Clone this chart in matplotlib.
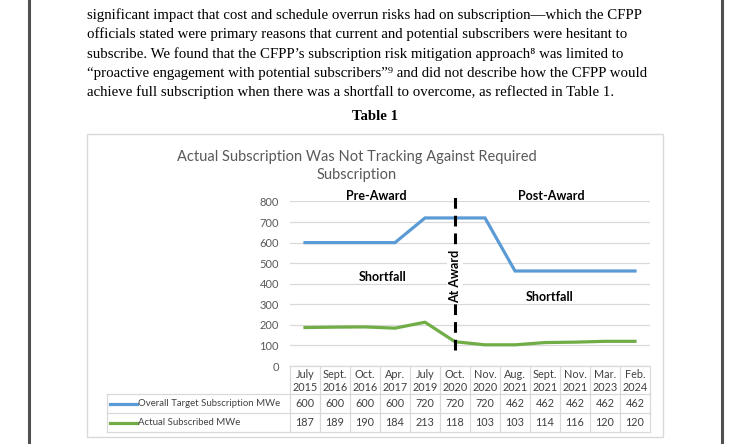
import matplotlib

matplotlib.use("Agg")
import matplotlib.pyplot as plt
from matplotlib.lines import Line2D
from matplotlib.patches import Rectangle

W, H = 750, 444

body_lines = [
    "significant impact that cost and schedule overrun risks had on subscription\u2014which the CFPP",
    "officials stated were primary reasons that current and potential subscribers were hesitant to",
    "subscribe. We found that the CFPP\u2019s subscription risk mitigation approach\u2078 was limited to",
    "\u201cproactive engagement with potential subscribers\u201d\u2079 and did not describe how the CFPP would",
    "achieve full subscription when there was a shortfall to overcome, as reflected in Table 1.",
]
table_caption = "Table 1"
chart_title = "Actual Subscription Was Not Tracking Against Required\nSubscription"

months = ["July", "Sept.", "Oct.", "Apr.", "July", "Oct.", "Nov.", "Aug.", "Sept.", "Nov.", "Mar.", "Feb."]
years = ["2015", "2016", "2016", "2017", "2019", "2020", "2020", "2021", "2021", "2021", "2023", "2024"]
target_mwe = [600, 600, 600, 600, 720, 720, 720, 462, 462, 462, 462, 462]
actual_mwe = [187, 189, 190, 184, 213, 118, 103, 103, 114, 116, 120, 120]
series_names = ["Overall Target Subscription MWe", "Actual Subscribed MWe"]
award_label = "Oct. 2020"

BLUE = "#5b9bd5"
GREEN = "#70ad47"
GRID = "#d9d9d9"
TXT = "#595959"
SERIF = ["Liberation Serif", "DejaVu Serif"]
SANS = ["Lato", "DejaVu Sans"]


def fx(x):
    return x / W


def fy(y):
    return 1 - y / H


fig = plt.figure(figsize=(7.5, 4.44), dpi=100)
fig.patch.set_facecolor("white")

# page frame lines
for xp in (28.5, 722):
    fig.add_artist(Line2D([fx(xp), fx(xp)], [0, 1], color="#505050", lw=2.2))

# body text
for i, line in enumerate(body_lines):
    fig.text(fx(87), fy(15 + i * 19.4), line, family=SERIF, fontsize=10.7,
             va="center", ha="left", color="black")
fig.text(fx(375), fy(117), table_caption, family=SERIF, fontsize=10.7,
         weight="bold", ha="center", va="center")

# chart box
fig.add_artist(Rectangle((fx(87), fy(437)), fx(663) - fx(87), fy(134.5) - fy(437),
                         transform=fig.transFigure, fill=False, ec=GRID, lw=1))
fig.text(fx(357), fy(166), chart_title, family=SANS, fontsize=10.5, color=TXT,
         ha="center", va="center", linespacing=1.45)

# main plot
ax = fig.add_axes([fx(290), fy(366), fx(650) - fx(290), fy(201.5) - fy(366)])
x = list(range(len(months)))
ax.plot(x, target_mwe, color=BLUE, lw=2.3, solid_joinstyle="miter")
ax.plot(x, actual_mwe, color=GREEN, lw=2.3)
ax.set_xlim(-0.5, len(months) - 0.5)
ax.set_ylim(0, 800)
ax.set_yticks(range(0, 801, 100))
ax.set_xticks([])
ax.grid(axis="y", color=GRID, lw=0.9)
ax.set_axisbelow(True)
ax.tick_params(axis="y", length=0, pad=8, labelsize=8, labelcolor=TXT)
for lab in ax.get_yticklabels():
    lab.set_family(SANS)
for s in ax.spines.values():
    s.set_visible(False)

award_idx = [f"{m} {y}" for m, y in zip(months, years)].index(award_label)
ax.axvline(award_idx, ymin=0.0975, ymax=1.06, color="black", lw=2.2,
           dashes=(3.5, 2.3), clip_on=False, zorder=3)
ax.text(award_idx, 438, "At Award", rotation=90, ha="center", va="center",
        family=SANS, fontsize=9, weight="bold", zorder=4,
        bbox=dict(boxstyle="square,pad=0.15", fc="white", ec="none"))
ax.text(2.39, 828, "Pre-Award", ha="center", va="center", family=SANS,
        fontsize=9, weight="bold", clip_on=False)
ax.text(8.2, 828, "Post-Award", ha="center", va="center", family=SANS,
        fontsize=9, weight="bold", clip_on=False)
ax.text(2.58, 435, "Shortfall", ha="center", va="center", family=SANS,
        fontsize=9, weight="bold")
ax.text(8.16, 334, "Shortfall", ha="center", va="center", family=SANS,
        fontsize=9, weight="bold")

# data table under the plot (vertical units are pixels)
tb = fig.add_axes([fx(290), fy(432), fx(650) - fx(290), fy(366) - fy(432)])
tb.set_xlim(-0.5, len(months) - 0.5)
tb.set_ylim(66, 0)
tb.axis("off")
rows = [0, 28, 47, 66]
left = -0.5 - (290 - 107) / 30
n = len(months)
kw = dict(color=GRID, lw=0.9, clip_on=False)
tb.plot([-0.5, n - 0.5], [rows[0], rows[0]], **kw)
for r in rows[1:]:
    tb.plot([left, n - 0.5], [r, r], **kw)
for i in range(n + 1):
    tb.plot([i - 0.5, i - 0.5], [rows[0], rows[3]], **kw)
tb.plot([left, left], [rows[1], rows[3]], **kw)

tkw = dict(family=SANS, fontsize=7.8, color="#404040", ha="center", va="center", clip_on=False)
for i in range(n):
    tb.text(i, 8.5, months[i], **tkw)
    tb.text(i, 21.5, years[i], **tkw)
    tb.text(i, 37.5, str(target_mwe[i]), **tkw)
    tb.text(i, 56.5, str(actual_mwe[i]), **tkw)
for name, color, (r0, r1) in zip(series_names, (BLUE, GREEN), ((rows[1], rows[2]), (rows[2], rows[3]))):
    yc = (r0 + r1) / 2
    tb.plot([left + 0.1, left + 1.0], [yc, yc], color=color, lw=2.3, clip_on=False)
    tb.text(left + 1.02, yc, name, family=SANS, fontsize=6.9, color="#404040",
            ha="left", va="center", clip_on=False)

fig.savefig("out.png", dpi=100)
